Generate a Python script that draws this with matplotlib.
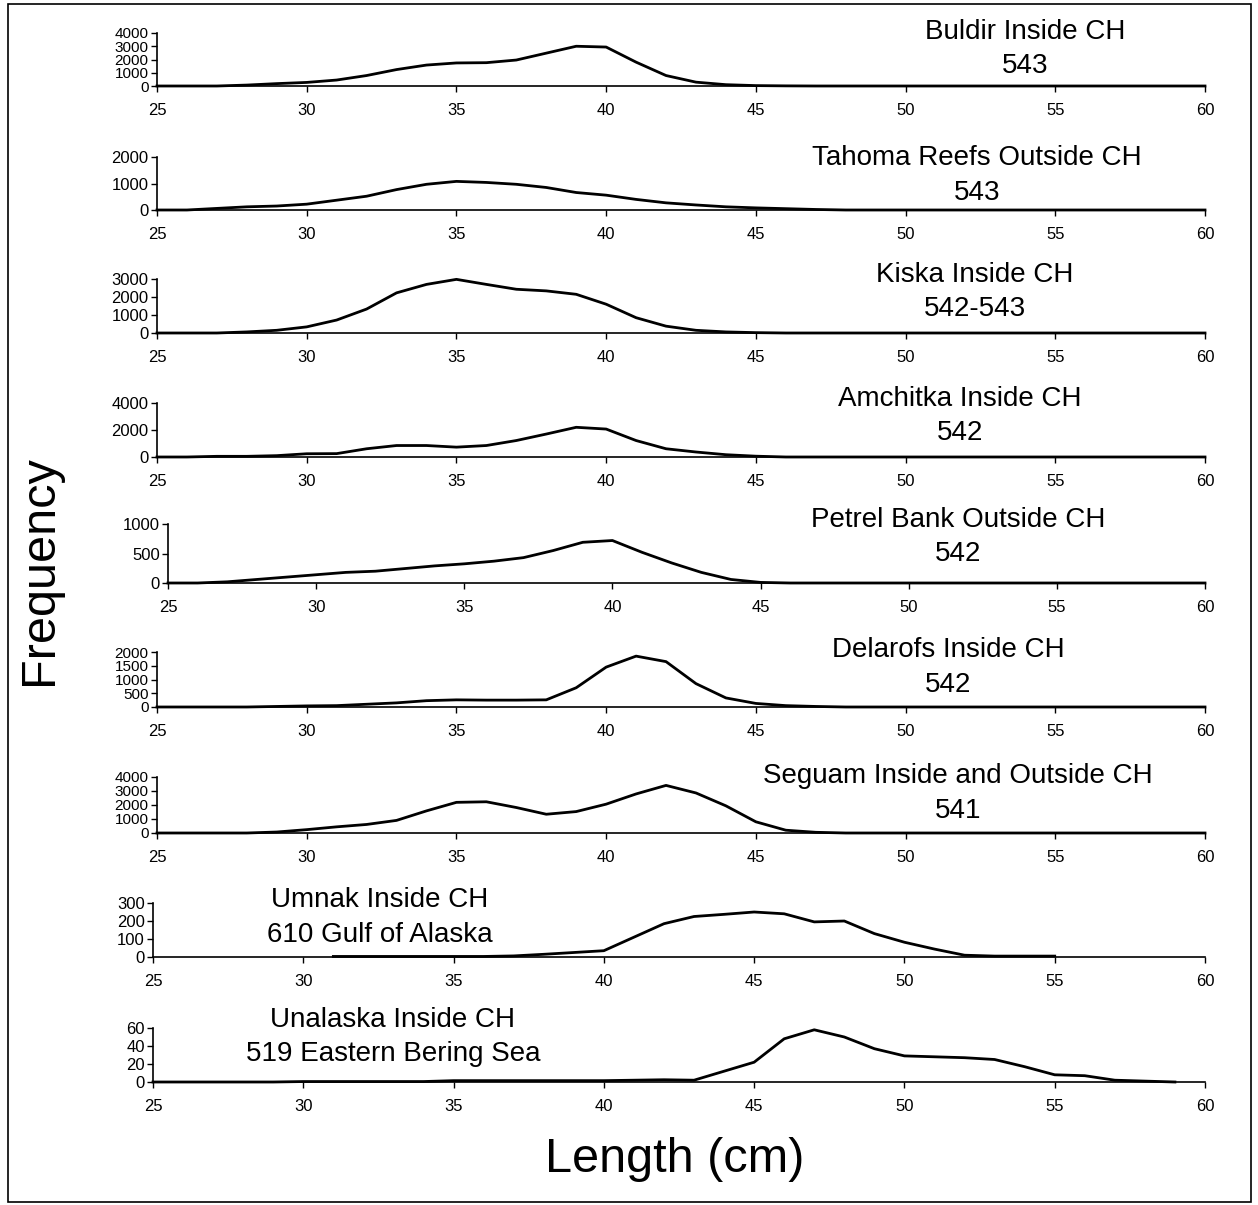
import matplotlib
matplotlib.use("Agg")
import matplotlib.pyplot as plt
from matplotlib.patches import Rectangle

plt.rcParams['font.family'] = ['Liberation Sans', 'DejaVu Sans']

W, H = 1258, 1205

# ---------------- data ----------------
lengths_full = list(range(25, 61))

buldir = [0, 0, 0, 70, 180, 270, 450, 790, 1240, 1580, 1740, 1760, 1960, 2480, 3000, 2940,
          1800, 790, 290, 100, 30, 10, 0, 0, 0, 0, 0, 0, 0, 0, 0, 0, 0, 0, 0, 0]
tahoma = [0, 0, 60, 120, 150, 220, 370, 520, 770, 970, 1080, 1040, 970, 850, 660, 560,
          400, 270, 190, 120, 80, 50, 20, 0, 0, 0, 0, 0, 0, 0, 0, 0, 0, 0, 0, 0]
kiska = [0, 0, 0, 60, 150, 340, 720, 1330, 2230, 2700, 2980, 2700, 2430, 2340, 2150, 1600,
         850, 380, 150, 60, 20, 0, 0, 0, 0, 0, 0, 0, 0, 0, 0, 0, 0, 0, 0, 0]
amchitka = [0, 0, 50, 50, 100, 240, 250, 610, 850, 850, 730, 850, 1220, 1700, 2200, 2070,
            1220, 610, 370, 170, 60, 0, 0, 0, 0, 0, 0, 0, 0, 0, 0, 0, 0, 0, 0, 0]
petrel = [0, 0, 20, 60, 100, 140, 180, 200, 245, 290, 325, 370, 430, 550, 690, 720,
          520, 340, 180, 60, 10, 0, 0, 0, 0, 0, 0, 0, 0, 0, 0, 0, 0, 0, 0, 0]
delarofs = [0, 0, 0, 0, 20, 40, 50, 100, 150, 230, 260, 250, 250, 260, 700, 1450,
            1850, 1650, 850, 330, 130, 50, 20, 0, 0, 0, 0, 0, 0, 0, 0, 0, 0, 0, 0, 0]
seguam = [0, 0, 0, 0, 70, 240, 440, 610, 900, 1580, 2190, 2230, 1820, 1340, 1530, 2060,
          2790, 3400, 2860, 1940, 800, 200, 50, 0, 0, 0, 0, 0, 0, 0, 0, 0, 0, 0, 0, 0]
umnak_lengths = list(range(31, 56))
umnak = [3, 3, 3, 3, 3, 3, 6, 15, 25, 35, 110, 185, 225, 237, 250, 240, 195, 200, 130,
         82, 44, 10, 5, 5, 5]
unalaska_lengths = list(range(25, 60))
unalaska = [0, 0, 0, 0, 0, 0.5, 0.5, 0.5, 0.5, 0.5, 1.5, 1.5, 1.5, 1.5, 1.5, 1.5, 2, 2.5,
            2, 12, 22, 48, 58, 50, 37, 29, 28, 27, 25, 17, 8, 7, 2, 1, 0]

titles = ["Buldir Inside CH", "Tahoma Reefs Outside CH", "Kiska Inside CH",
          "Amchitka Inside CH", "Petrel Bank Outside CH", "Delarofs Inside CH",
          "Seguam Inside and Outside CH", "Umnak Inside CH", "Unalaska Inside CH"]
subtitles = ["543", "543", "542-543", "542", "542", "542", "541",
             "610 Gulf of Alaska", "519 Eastern Bering Sea"]
yticks = [[0, 1000, 2000, 3000, 4000], [0, 1000, 2000], [0, 1000, 2000, 3000],
          [0, 2000, 4000], [0, 500, 1000], [0, 500, 1000, 1500, 2000],
          [0, 1000, 2000, 3000, 4000], [0, 100, 200, 300], [0, 20, 40, 60]]
xticks = [25, 30, 35, 40, 45, 50, 55, 60]

series = [(lengths_full, buldir), (lengths_full, tahoma), (lengths_full, kiska),
          (lengths_full, amchitka), (lengths_full, petrel), (lengths_full, delarofs),
          (lengths_full, seguam), (umnak_lengths, umnak), (unalaska_lengths, unalaska)]

# ---------------- layout (pixels) ----------------
panel_px = [(157, 33, 86), (157, 157, 210), (157, 279, 333), (157, 403, 457),
            (168, 524, 583), (157, 652, 707), (157, 777, 833), (153, 903, 957),
            (153, 1028, 1082)]
right_px = 1205
title_px = [(1025, 32, 66), (977, 158, 193), (975, 275, 309), (960, 399, 433),
            (958, 520, 554), (948, 650, 685), (958, 776, 811), (380, 900, 935),
            (393, 1020, 1054)]

fig = plt.figure(figsize=(W / 100, H / 100), dpi=100)
fig.patch.set_facecolor("white")

for i, ((L, T, B), (xs, ys)) in enumerate(zip(panel_px, series)):
    ax = fig.add_axes([L / W, 1 - B / H, (right_px - L) / W, (B - T) / H])
    ax.plot(xs, ys, color="black", lw=2.0, solid_joinstyle="round")
    ax.set_xlim(25, 60)
    ax.set_ylim(0, yticks[i][-1])
    ax.set_xticks(xticks)
    ax.set_yticks(yticks[i])
    ysz = 11 if len(yticks[i]) >= 5 else 12
    ax.set_xticklabels([str(t) for t in xticks], fontsize=12)
    ax.set_yticklabels([str(t) for t in yticks[i]], fontsize=ysz)
    for s in ["top", "right"]:
        ax.spines[s].set_visible(False)
    for s in ["left", "bottom"]:
        ax.spines[s].set_linewidth(1.2)
        ax.spines[s].set_color("black")
    ax.tick_params(axis="x", length=4, width=1, pad=8, colors="black")
    ax.tick_params(axis="y", length=4, width=1, pad=2, colors="black")
    ax.patch.set_alpha(0)
    for ln in ax.lines:
        ln.set_clip_on(False)
    tx, ty1, ty2 = title_px[i]
    fig.text(tx / W, 1 - ty1 / H, titles[i], ha="center", va="center", fontsize=20)
    fig.text(tx / W, 1 - ty2 / H, subtitles[i], ha="center", va="center", fontsize=20)

fig.text(40 / W, 1 - 570 / H, "Frequency", rotation=90, ha="center", va="center",
         fontsize=35)
fig.text(675 / W, 1 - 1160 / H, "Length (cm)", ha="center", va="center", fontsize=35)

fig.patches.append(Rectangle((8 / W, 1 - 1202 / H), (1251 - 8) / W, (1202 - 4) / H,
                             transform=fig.transFigure, fill=False, lw=1.2,
                             edgecolor="black"))

fig.savefig("out.png", dpi=100, facecolor="white")
